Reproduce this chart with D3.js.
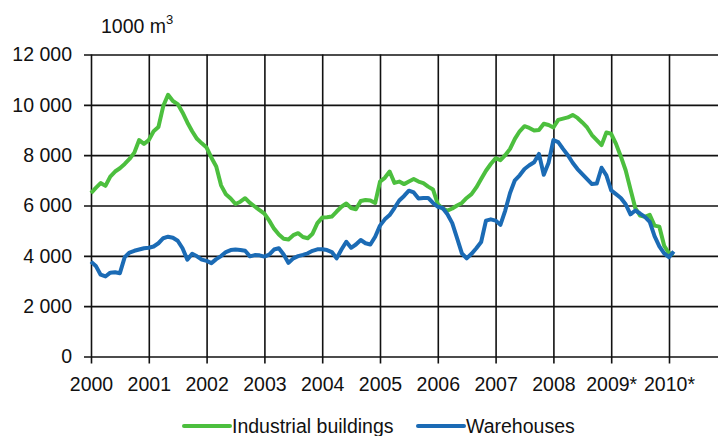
<!DOCTYPE html>
<html>
<head>
<meta charset="utf-8">
<script src="https://cdn.jsdelivr.net/npm/d3@7"></script>
<style>
  body { margin: 0; background: #fff; }
  svg text { font-family: "Liberation Sans", Arial, sans-serif; fill: #111; }
</style>
</head>
<body>
<div id="chart"></div>
<script>
// ---- data: monthly values, Jan 2000 .. Feb 2010 (1000 m3) ----
const startYear = 2000;
const industrial = [
  6490, 6700, 6890, 6780, 7150, 7350, 7480, 7650, 7850, 8100, 8600, 8450,
  8600, 8950, 9120, 9950, 10400, 10150, 10030, 9700, 9300, 8950, 8650, 8470,
  8300, 7900, 7550, 6800, 6450, 6280, 6060, 6150, 6290, 6100, 5960, 5820,
  5680, 5400, 5080, 4850, 4680, 4650, 4820, 4900, 4750, 4700, 4880, 5300,
  5520, 5530, 5560, 5760, 5950, 6080, 5900, 5850, 6180, 6220, 6200, 6100,
  6950, 7100, 7350, 6900, 6950, 6850, 6950, 7050, 6950, 6890, 6750, 6640,
  6050, 5880, 5800, 5880, 6000, 6100, 6300, 6450, 6720, 7050, 7380, 7650,
  7880, 7800, 8000, 8250, 8650, 8950, 9150, 9080, 8980, 9000, 9250, 9200,
  9100, 9400, 9450, 9500, 9600, 9480, 9300, 9100, 8800, 8600, 8400, 8900,
  8850, 8450, 7950, 7400, 6650, 5900, 5600, 5550, 5630, 5200, 5160, 4400,
  4100, 4060
];
const warehouses = [
  3770, 3600, 3250, 3180, 3330, 3350, 3310, 3950, 4130, 4200, 4250, 4300,
  4320, 4370, 4500, 4700, 4760, 4720, 4600, 4300, 3850, 4080, 3980, 3850,
  3800, 3710, 3870, 3990, 4150, 4230, 4250, 4230, 4200, 3980, 4030, 4020,
  3970, 4050, 4250, 4300, 4050, 3720, 3900, 3990, 4040, 4100, 4200, 4260,
  4260, 4230, 4150, 3900, 4250, 4560, 4320, 4450, 4630, 4500, 4450, 4760,
  5200, 5450, 5620, 5900, 6200, 6380, 6590, 6520, 6280, 6300, 6300, 6100,
  5950, 5900, 5650, 5300, 4700, 4100, 3900, 4080, 4300, 4550, 5400, 5450,
  5400, 5230, 5800, 6500, 7000, 7200, 7450, 7600, 7720, 8050, 7220, 7700,
  8600, 8520, 8250, 8000, 7700, 7450, 7250, 7050, 6850, 6870, 7500, 7200,
  6600, 6450, 6300, 6050, 5650, 5800, 5680, 5550, 5350, 4780, 4380, 4100,
  3950, 4170
];
const yearTicks = [2000, 2001, 2002, 2003, 2004, 2005, 2006, 2007, 2008, 2009, 2010];
const yearLabels = ["2000", "2001", "2002", "2003", "2004", "2005", "2006", "2007", "2008", "2009*", "2010*"];
const valueTicks = [0, 2000, 4000, 6000, 8000, 10000, 12000];
const seriesNames = ["Industrial buildings", "Warehouses"];
const seriesColors = ["#4cbf3e", "#1b6bb5"];

// ---- setup ----
const width = 718, height = 436;
const plotLeft = 91, plotTop = 54.5, plotBottom = 356.5;

const svg = d3.select('#chart').append('svg')
  .attr('width', width)
  .attr('height', height);

const x = d3.scaleLinear().domain([2000, 2011]).range([plotLeft, plotLeft + 11 * 57.8]);
const y = d3.scaleLinear().domain([0, 12000]).range([plotBottom, plotTop]);

const fmt = v => d3.format(',')(v).replace(/,/g, ' ');

// grid + y axis
const yAxis = d3.axisLeft(y).tickValues(valueTicks).tickSize(width - plotLeft + 7).tickFormat(fmt).tickPadding(12);
svg.append('g')
  .attr('transform', `translate(${width},0)`)
  .call(yAxis)
  .call(g => g.select('.domain').remove())
  .call(g => g.selectAll('line').attr('stroke', '#111').attr('stroke-width', 1.6))
  .call(g => g.selectAll('text').attr('x', -(width - 72)).attr('text-anchor', 'end')
    .style('font-size', '19.5px').attr('font-family', null));

// vertical grid + x axis
const xAxis = d3.axisBottom(x).tickValues(yearTicks).tickSize(plotBottom - plotTop + 7)
  .tickFormat((d, i) => yearLabels[i]).tickPadding(14);
svg.append('g')
  .attr('transform', `translate(0,${plotTop})`)
  .call(xAxis)
  .call(g => g.select('.domain').remove())
  .call(g => g.selectAll('line').attr('stroke', '#111').attr('stroke-width', 1.6))
  .call(g => g.selectAll('text').style('font-size', '19.5px').attr('font-family', null));

// unit label
const unit = svg.append('text').attr('x', 101).attr('y', 33).style('font-size', '19.5px');
unit.append('tspan').text('1000 m');
unit.append('tspan').attr('dy', -9).style('font-size', '13px').text('3');

// lines
const line = d3.line()
  .x((d, i) => x(startYear + i / 12))
  .y(d => y(d));

[industrial, warehouses].forEach((data, k) => {
  svg.append('path')
    .datum(data)
    .attr('fill', 'none')
    .attr('stroke', seriesColors[k])
    .attr('stroke-width', 4)
    .attr('stroke-linejoin', 'round')
    .attr('d', line);
});

// legend
const legendX = [184, 418];
seriesNames.forEach((name, k) => {
  const g = svg.append('g').attr('transform', `translate(${legendX[k]},426)`);
  g.append('line').attr('x1', 0).attr('x2', 46).attr('y1', 0).attr('y2', 0)
    .attr('stroke', seriesColors[k]).attr('stroke-width', 4).attr('stroke-linecap', 'round');
  g.append('text').attr('x', 48).attr('y', 7).style('font-size', '19.5px').text(name);
});
</script>
</body>
</html>
